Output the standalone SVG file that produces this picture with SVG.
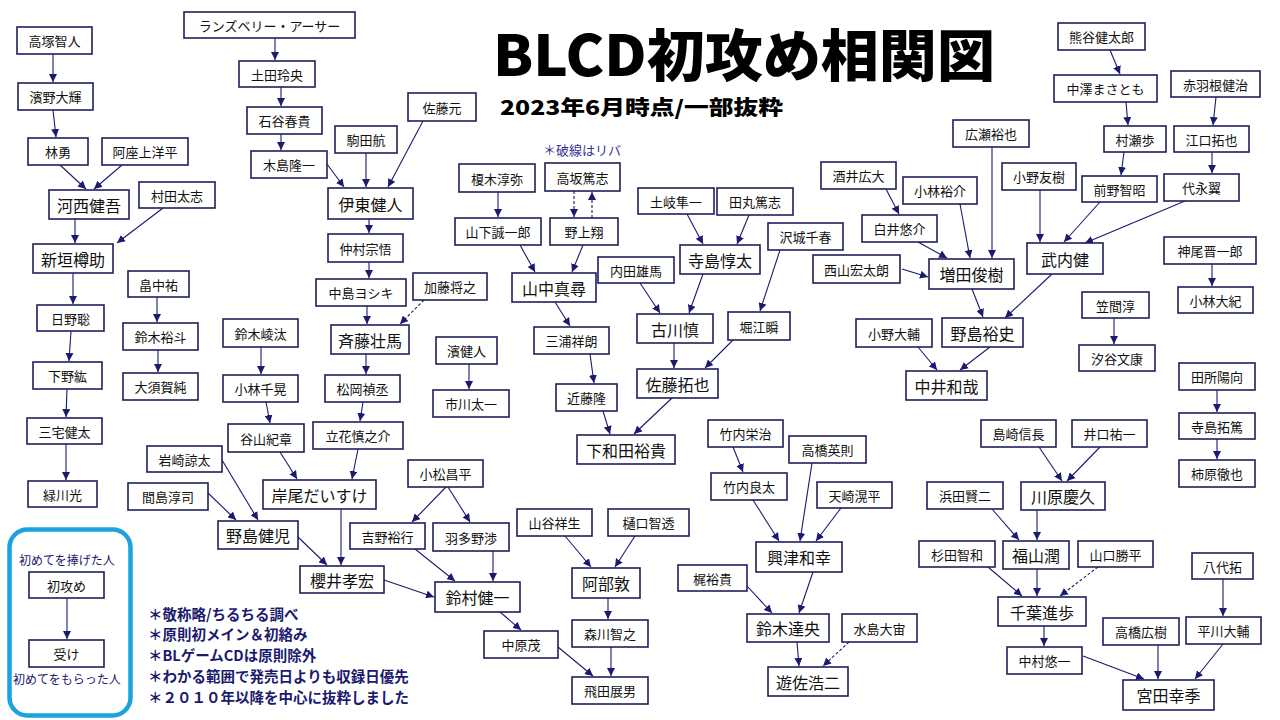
<svg xmlns="http://www.w3.org/2000/svg" width="1280" height="720" viewBox="0 0 1280 720">
<defs>
<style>
.n rect{fill:#fff;stroke:#1f1f5c;stroke-width:1.6}
.n text{font-family:"Noto Sans CJK JP","Noto Sans",sans-serif;font-size:13px;fill:#111;text-anchor:middle;dominant-baseline:central}
.b text{font-size:16px}
.e line{stroke:#1a1a6e;stroke-width:1.1;marker-end:url(#ah)}
.e line.d{stroke-dasharray:3 2}
.note{font-family:"Noto Sans CJK JP","Noto Sans",sans-serif;font-size:14.5px;font-weight:700;fill:#1a1a6e}
.leg{font-family:"Noto Sans CJK JP","Noto Sans",sans-serif;font-size:12px;fill:#1a1a6e;text-anchor:middle}
</style>
<marker id="ah" viewBox="0 0 10 10" refX="10" refY="5" markerWidth="8" markerHeight="8" markerUnits="userSpaceOnUse" orient="auto">
<path d="M0,0 L10,5 L0,10 z" fill="#1a1a6e"/>
</marker>
</defs>
<rect width="1280" height="720" fill="#fff"/>
<text x="493" y="76" textLength="502" lengthAdjust="spacingAndGlyphs" font-family="'Noto Sans CJK JP',sans-serif" font-weight="900" font-size="56" fill="#000">BLCD初攻め相関図</text>
<text x="500" y="115" textLength="283" lengthAdjust="spacingAndGlyphs" font-family="'Noto Sans CJK JP',sans-serif" font-weight="900" font-size="20" fill="#000">2023年6月時点/一部抜粋</text>
<text x="543" y="155" font-family="'Noto Sans CJK JP',sans-serif" font-size="13" fill="#33339a">＊破線はリバ</text>

<g id="connectors" class="e">
<line x1="53" y1="54" x2="53" y2="82"/>
<line x1="53" y1="110" x2="56" y2="137"/>
<line x1="60" y1="165" x2="86" y2="189"/>
<line x1="122" y1="165" x2="94" y2="189"/>
<line x1="75" y1="219" x2="75" y2="243"/>
<line x1="163" y1="208" x2="117" y2="243"/>
<line x1="73" y1="273" x2="73" y2="304"/>
<line x1="71" y1="331" x2="69" y2="361"/>
<line x1="67" y1="389" x2="66" y2="417"/>
<line x1="66" y1="444" x2="66" y2="480"/>
<line x1="157" y1="297" x2="157" y2="322"/>
<line x1="158" y1="350" x2="158" y2="372"/>
<line x1="275" y1="38" x2="275" y2="60"/>
<line x1="281" y1="87" x2="281" y2="106"/>
<line x1="281" y1="134" x2="281" y2="150"/>
<line x1="327" y1="164" x2="344" y2="187"/>
<line x1="366" y1="153" x2="366" y2="187"/>
<line x1="423" y1="121" x2="388" y2="187"/>
<line x1="369" y1="219" x2="369" y2="233"/>
<line x1="369" y1="262" x2="369" y2="278"/>
<line x1="367" y1="306" x2="367" y2="324"/>
<line class="d" x1="424" y1="300" x2="400" y2="324"/>
<line x1="366" y1="354" x2="366" y2="374"/>
<line x1="363" y1="402" x2="360" y2="421"/>
<line x1="358" y1="449" x2="352" y2="479"/>
<line x1="261" y1="347" x2="261" y2="374"/>
<line x1="266" y1="402" x2="270" y2="423"/>
<line x1="280" y1="452" x2="297" y2="479"/>
<line x1="222" y1="460" x2="258" y2="520"/>
<line x1="208" y1="493" x2="236" y2="520"/>
<line x1="298" y1="537" x2="327" y2="565"/>
<line x1="341" y1="509" x2="341" y2="565"/>
<line x1="384" y1="580" x2="434" y2="597"/>
<line x1="469" y1="364" x2="469" y2="389"/>
<line x1="446" y1="487" x2="412" y2="522"/>
<line x1="448" y1="487" x2="470" y2="522"/>
<line x1="415" y1="549" x2="455" y2="581"/>
<line x1="493" y1="551" x2="493" y2="581"/>
<line x1="500" y1="612" x2="521" y2="630"/>
<line x1="558" y1="647" x2="593" y2="676"/>
<line x1="565" y1="536" x2="591" y2="567"/>
<line x1="635" y1="536" x2="615" y2="567"/>
<line x1="608" y1="598" x2="608" y2="619"/>
<line x1="611" y1="647" x2="611" y2="676"/>
<line x1="498" y1="192" x2="498" y2="217"/>
<line class="d" x1="574" y1="191" x2="574" y2="217"/>
<line class="d" x1="592" y1="218" x2="592" y2="192"/>
<line x1="520" y1="245" x2="535" y2="272"/>
<line x1="583" y1="245" x2="572" y2="272"/>
<line x1="555" y1="302" x2="570" y2="326"/>
<line x1="590" y1="354" x2="594" y2="383"/>
<line x1="603" y1="411" x2="610" y2="434"/>
<line x1="672" y1="398" x2="634" y2="434"/>
<line x1="687" y1="214" x2="703" y2="244"/>
<line x1="749" y1="215" x2="737" y2="244"/>
<line x1="640" y1="283" x2="660" y2="313"/>
<line x1="703" y1="274" x2="689" y2="313"/>
<line x1="780" y1="250" x2="760" y2="311"/>
<line x1="674" y1="343" x2="674" y2="368"/>
<line x1="733" y1="340" x2="705" y2="368"/>
<line x1="733" y1="447" x2="743" y2="472"/>
<line x1="753" y1="500" x2="779" y2="541"/>
<line x1="812" y1="463" x2="800" y2="541"/>
<line x1="841" y1="508" x2="816" y2="541"/>
<line x1="813" y1="572" x2="799" y2="613"/>
<line x1="747" y1="586" x2="772" y2="613"/>
<line x1="797" y1="642" x2="799" y2="666"/>
<line class="d" x1="849" y1="642" x2="823" y2="666"/>
<line x1="886" y1="189" x2="899" y2="214"/>
<line x1="918" y1="242" x2="947" y2="258"/>
<line x1="960" y1="204" x2="970" y2="258"/>
<line x1="992" y1="147" x2="992" y2="258"/>
<line x1="902" y1="269" x2="928" y2="277"/>
<line x1="1040" y1="190" x2="1040" y2="242"/>
<line x1="1100" y1="202" x2="1064" y2="242"/>
<line x1="1185" y1="201" x2="1085" y2="243"/>
<line x1="1110" y1="50" x2="1120" y2="74"/>
<line x1="1126" y1="102" x2="1128" y2="125"/>
<line x1="1216" y1="97" x2="1213" y2="125"/>
<line x1="1124" y1="152" x2="1121" y2="175"/>
<line x1="1212" y1="152" x2="1212" y2="173"/>
<line x1="972" y1="289" x2="983" y2="317"/>
<line x1="1052" y1="274" x2="1005" y2="318"/>
<line x1="990" y1="347" x2="960" y2="370"/>
<line x1="918" y1="347" x2="937" y2="370"/>
<line x1="1212" y1="264" x2="1212" y2="286"/>
<line x1="1114" y1="318" x2="1114" y2="344"/>
<line x1="1217" y1="390" x2="1217" y2="412"/>
<line x1="1217" y1="439" x2="1217" y2="459"/>
<line x1="1039" y1="447" x2="1062" y2="481"/>
<line x1="1100" y1="447" x2="1067" y2="481"/>
<line x1="1037" y1="510" x2="1037" y2="540"/>
<line x1="992" y1="509" x2="1019" y2="540"/>
<line x1="988" y1="567" x2="1022" y2="596"/>
<line x1="1037" y1="569" x2="1037" y2="596"/>
<line class="d" x1="1098" y1="567" x2="1060" y2="596"/>
<line x1="1044" y1="626" x2="1044" y2="646"/>
<line x1="1083" y1="656" x2="1144" y2="679"/>
<line x1="1158" y1="645" x2="1158" y2="679"/>
<line x1="1223" y1="644" x2="1195" y2="679"/>
<line x1="1223" y1="579" x2="1223" y2="616"/>
<line x1="67" y1="598" x2="67" y2="639"/>
</g>

<g id="n1" class="n"><rect x="17" y="27" width="75" height="27"/><text x="54.5" y="40.5">高塚智人</text></g>
<g id="n2" class="n"><rect x="18" y="83" width="75" height="27"/><text x="55.5" y="96.5">濱野大輝</text></g>
<g id="n3" class="n"><rect x="28" y="138" width="60" height="27"/><text x="58" y="151.5">林勇</text></g>
<g id="n4" class="n"><rect x="102" y="138" width="86" height="27"/><text x="145" y="151.5">阿座上洋平</text></g>
<g id="n5" class="n b"><rect x="49" y="190" width="80" height="29"/><text x="89" y="204.5">河西健吾</text></g>
<g id="n6" class="n"><rect x="139" y="182" width="76" height="26"/><text x="177" y="195">村田太志</text></g>
<g id="n7" class="n b"><rect x="33" y="244" width="80" height="29"/><text x="73" y="258.5">新垣樽助</text></g>
<g id="n8" class="n"><rect x="37" y="305" width="67" height="26"/><text x="70.5" y="318">日野聡</text></g>
<g id="n9" class="n"><rect x="33" y="362" width="69" height="27"/><text x="67.5" y="375.5">下野紘</text></g>
<g id="n10" class="n"><rect x="27" y="418" width="75" height="26"/><text x="64.5" y="431">三宅健太</text></g>
<g id="n11" class="n"><rect x="28" y="481" width="69" height="26"/><text x="62.5" y="494">緑川光</text></g>
<g id="n12" class="n"><rect x="128" y="271" width="61" height="26"/><text x="158.5" y="284">畠中祐</text></g>
<g id="n13" class="n"><rect x="123" y="323" width="75" height="27"/><text x="160.5" y="336.5">鈴木裕斗</text></g>
<g id="n14" class="n"><rect x="123" y="373" width="75" height="27"/><text x="160.5" y="386.5">大須賀純</text></g>
<g id="n15" class="n"><rect x="184" y="12" width="171" height="26"/><text x="269.5" y="25">ランズベリー・アーサー</text></g>
<g id="n16" class="n"><rect x="239" y="61" width="76" height="26"/><text x="277" y="74">土田玲央</text></g>
<g id="n17" class="n"><rect x="247" y="107" width="75" height="27"/><text x="284.5" y="120.5">石谷春貴</text></g>
<g id="n18" class="n"><rect x="251" y="151" width="76" height="27"/><text x="289" y="164.5">木島隆一</text></g>
<g id="n19" class="n"><rect x="335" y="126" width="62" height="27"/><text x="366" y="139.5">駒田航</text></g>
<g id="n20" class="n"><rect x="408" y="93" width="68" height="28"/><text x="442" y="107">佐藤元</text></g>
<g id="n21" class="n b"><rect x="328" y="188" width="85" height="31"/><text x="370.5" y="203.5">伊東健人</text></g>
<g id="n22" class="n"><rect x="328" y="234" width="75" height="28"/><text x="365.5" y="248">仲村宗悟</text></g>
<g id="n23" class="n"><rect x="316" y="279" width="90" height="27"/><text x="361" y="292.5">中島ヨシキ</text></g>
<g id="n24" class="n"><rect x="413" y="273" width="74" height="27"/><text x="450" y="286.5">加藤将之</text></g>
<g id="n25" class="n b"><rect x="331" y="325" width="78" height="29"/><text x="370" y="339.5">斉藤壮馬</text></g>
<g id="n26" class="n"><rect x="325" y="375" width="75" height="27"/><text x="362.5" y="388.5">松岡禎丞</text></g>
<g id="n27" class="n"><rect x="313" y="422" width="90" height="27"/><text x="358" y="435.5">立花慎之介</text></g>
<g id="n28" class="n"><rect x="223" y="319" width="75" height="28"/><text x="260.5" y="333">鈴木崚汰</text></g>
<g id="n29" class="n"><rect x="223" y="375" width="75" height="27"/><text x="260.5" y="388.5">小林千晃</text></g>
<g id="n30" class="n"><rect x="228" y="424" width="76" height="28"/><text x="266" y="438">谷山紀章</text></g>
<g id="n31" class="n"><rect x="147" y="446" width="75" height="26"/><text x="184.5" y="459">岩崎諒太</text></g>
<g id="n32" class="n"><rect x="128" y="483" width="80" height="27"/><text x="168" y="496.5">間島淳司</text></g>
<g id="n33" class="n b"><rect x="263" y="480" width="113" height="29"/><text x="319.5" y="494.5">岸尾だいすけ</text></g>
<g id="n34" class="n b"><rect x="218" y="521" width="80" height="28"/><text x="258" y="535">野島健児</text></g>
<g id="n35" class="n b"><rect x="300" y="566" width="84" height="27"/><text x="342" y="579.5">櫻井孝宏</text></g>
<g id="n36" class="n"><rect x="436" y="337" width="61" height="27"/><text x="466.5" y="350.5">濱健人</text></g>
<g id="n37" class="n"><rect x="433" y="390" width="76" height="27"/><text x="471" y="403.5">市川太一</text></g>
<g id="n38" class="n"><rect x="408" y="460" width="75" height="27"/><text x="445.5" y="473.5">小松昌平</text></g>
<g id="n39" class="n"><rect x="350" y="523" width="75" height="26"/><text x="387.5" y="536">吉野裕行</text></g>
<g id="n40" class="n"><rect x="433" y="523" width="76" height="28"/><text x="471" y="537">羽多野渉</text></g>
<g id="n41" class="n b"><rect x="435" y="582" width="85" height="30"/><text x="477.5" y="597">鈴村健一</text></g>
<g id="n42" class="n"><rect x="484" y="631" width="74" height="27"/><text x="521" y="644.5">中原茂</text></g>
<g id="n43" class="n"><rect x="459" y="164" width="76" height="28"/><text x="497" y="178">榎木淳弥</text></g>
<g id="n44" class="n"><rect x="545" y="163" width="75" height="28"/><text x="582.5" y="177">高坂篤志</text></g>
<g id="n45" class="n"><rect x="455" y="218" width="86" height="27"/><text x="498" y="231.5">山下誠一郎</text></g>
<g id="n46" class="n"><rect x="550" y="218" width="68" height="27"/><text x="584" y="231.5">野上翔</text></g>
<g id="n47" class="n b"><rect x="512" y="273" width="84" height="29"/><text x="554" y="287.5">山中真尋</text></g>
<g id="n48" class="n"><rect x="534" y="327" width="75" height="27"/><text x="571.5" y="340.5">三浦祥朗</text></g>
<g id="n49" class="n"><rect x="556" y="384" width="61" height="27"/><text x="586.5" y="397.5">近藤隆</text></g>
<g id="n50" class="n b"><rect x="577" y="435" width="98" height="29"/><text x="626" y="449.5">下和田裕貴</text></g>
<g id="n51" class="n"><rect x="517" y="509" width="75" height="27"/><text x="554.5" y="522.5">山谷祥生</text></g>
<g id="n52" class="n"><rect x="608" y="509" width="81" height="27"/><text x="648.5" y="522.5">樋口智透</text></g>
<g id="n53" class="n b"><rect x="572" y="568" width="68" height="30"/><text x="606" y="583">阿部敦</text></g>
<g id="n54" class="n"><rect x="572" y="620" width="76" height="27"/><text x="610" y="633.5">森川智之</text></g>
<g id="n55" class="n"><rect x="572" y="677" width="76" height="27"/><text x="610" y="690.5">飛田展男</text></g>
<g id="n56" class="n"><rect x="638" y="188" width="76" height="26"/><text x="676" y="201">土岐隼一</text></g>
<g id="n57" class="n"><rect x="717" y="188" width="76" height="27"/><text x="755" y="201.5">田丸篤志</text></g>
<g id="n58" class="n"><rect x="598" y="257" width="76" height="26"/><text x="636" y="270">内田雄馬</text></g>
<g id="n59" class="n b"><rect x="680" y="245" width="80" height="29"/><text x="720" y="259.5">寺島惇太</text></g>
<g id="n60" class="n"><rect x="768" y="223" width="75" height="27"/><text x="805.5" y="236.5">沢城千春</text></g>
<g id="n61" class="n b"><rect x="637" y="314" width="76" height="29"/><text x="675" y="328.5">古川慎</text></g>
<g id="n62" class="n"><rect x="728" y="312" width="62" height="28"/><text x="759" y="326">堀江瞬</text></g>
<g id="n63" class="n b"><rect x="637" y="369" width="81" height="29"/><text x="677.5" y="383.5">佐藤拓也</text></g>
<g id="n64" class="n"><rect x="708" y="420" width="75" height="27"/><text x="745.5" y="433.5">竹内栄治</text></g>
<g id="n65" class="n"><rect x="789" y="436" width="77" height="27"/><text x="827.5" y="449.5">高橋英則</text></g>
<g id="n66" class="n"><rect x="711" y="473" width="76" height="27"/><text x="749" y="486.5">竹内良太</text></g>
<g id="n67" class="n"><rect x="817" y="482" width="75" height="26"/><text x="854.5" y="495">天崎滉平</text></g>
<g id="n68" class="n b"><rect x="756" y="542" width="86" height="30"/><text x="799" y="557">興津和幸</text></g>
<g id="n69" class="n"><rect x="678" y="565" width="69" height="26"/><text x="712.5" y="578">梶裕貴</text></g>
<g id="n70" class="n b"><rect x="747" y="614" width="82" height="28"/><text x="788" y="628">鈴木達央</text></g>
<g id="n71" class="n"><rect x="842" y="614" width="75" height="28"/><text x="879.5" y="628">水島大宙</text></g>
<g id="n72" class="n b"><rect x="768" y="667" width="80" height="29"/><text x="808" y="681.5">遊佐浩二</text></g>
<g id="n73" class="n"><rect x="821" y="162" width="75" height="27"/><text x="858.5" y="175.5">酒井広大</text></g>
<g id="n74" class="n"><rect x="903" y="177" width="74" height="27"/><text x="940" y="190.5">小林裕介</text></g>
<g id="n75" class="n"><rect x="862" y="215" width="75" height="27"/><text x="899.5" y="228.5">白井悠介</text></g>
<g id="n76" class="n"><rect x="953" y="120" width="76" height="27"/><text x="991" y="133.5">広瀬裕也</text></g>
<g id="n77" class="n"><rect x="813" y="255" width="87" height="28"/><text x="856.5" y="269">西山宏太朗</text></g>
<g id="n78" class="n b"><rect x="929" y="259" width="85" height="30"/><text x="971.5" y="274">増田俊樹</text></g>
<g id="n79" class="n"><rect x="856" y="319" width="76" height="28"/><text x="894" y="333">小野大輔</text></g>
<g id="n80" class="n b"><rect x="942" y="318" width="81" height="29"/><text x="982.5" y="332.5">野島裕史</text></g>
<g id="n81" class="n b"><rect x="906" y="371" width="81" height="29"/><text x="946.5" y="385.5">中井和哉</text></g>
<g id="n82" class="n"><rect x="1058" y="23" width="87" height="27"/><text x="1101.5" y="36.5">熊谷健太郎</text></g>
<g id="n83" class="n"><rect x="1054" y="75" width="103" height="27"/><text x="1105.5" y="88.5">中澤まさとも</text></g>
<g id="n84" class="n"><rect x="1171" y="71" width="89" height="26"/><text x="1215.5" y="84">赤羽根健治</text></g>
<g id="n85" class="n"><rect x="1104" y="126" width="62" height="26"/><text x="1135" y="139">村瀬歩</text></g>
<g id="n86" class="n"><rect x="1174" y="126" width="75" height="26"/><text x="1211.5" y="139">江口拓也</text></g>
<g id="n87" class="n"><rect x="1002" y="163" width="74" height="27"/><text x="1039" y="176.5">小野友樹</text></g>
<g id="n88" class="n"><rect x="1082" y="176" width="75" height="26"/><text x="1119.5" y="189">前野智昭</text></g>
<g id="n89" class="n"><rect x="1164" y="174" width="75" height="27"/><text x="1201.5" y="187.5">代永翼</text></g>
<g id="n90" class="n b"><rect x="1027" y="243" width="76" height="31"/><text x="1065" y="258.5">武内健</text></g>
<g id="n91" class="n"><rect x="1164" y="237" width="92" height="27"/><text x="1210" y="250.5">神尾晋一郎</text></g>
<g id="n92" class="n"><rect x="1178" y="287" width="75" height="26"/><text x="1215.5" y="300">小林大紀</text></g>
<g id="n93" class="n"><rect x="1082" y="292" width="67" height="26"/><text x="1115.5" y="305">笠間淳</text></g>
<g id="n94" class="n"><rect x="1079" y="345" width="76" height="26"/><text x="1117" y="358">汐谷文康</text></g>
<g id="n95" class="n"><rect x="1179" y="363" width="76" height="27"/><text x="1217" y="376.5">田所陽向</text></g>
<g id="n96" class="n"><rect x="1179" y="413" width="76" height="26"/><text x="1217" y="426">寺島拓篤</text></g>
<g id="n97" class="n"><rect x="1179" y="460" width="76" height="27"/><text x="1217" y="473.5">柿原徹也</text></g>
<g id="n98" class="n"><rect x="981" y="420" width="75" height="27"/><text x="1018.5" y="433.5">島崎信長</text></g>
<g id="n99" class="n"><rect x="1072" y="420" width="75" height="27"/><text x="1109.5" y="433.5">井口祐一</text></g>
<g id="n100" class="n b"><rect x="1021" y="482" width="84" height="28"/><text x="1063" y="496">川原慶久</text></g>
<g id="n101" class="n"><rect x="927" y="482" width="76" height="27"/><text x="965" y="495.5">浜田賢二</text></g>
<g id="n102" class="n"><rect x="919" y="541" width="76" height="26"/><text x="957" y="554">杉田智和</text></g>
<g id="n103" class="n b"><rect x="1003" y="541" width="66" height="28"/><text x="1036" y="555">福山潤</text></g>
<g id="n104" class="n"><rect x="1078" y="541" width="75" height="26"/><text x="1115.5" y="554">山口勝平</text></g>
<g id="n105" class="n b"><rect x="998" y="597" width="88" height="29"/><text x="1042" y="611.5">千葉進歩</text></g>
<g id="n106" class="n"><rect x="1007" y="647" width="75" height="27"/><text x="1044.5" y="660.5">中村悠一</text></g>
<g id="n107" class="n"><rect x="1103" y="618" width="76" height="27"/><text x="1141" y="631.5">高橋広樹</text></g>
<g id="n108" class="n"><rect x="1192" y="553" width="61" height="26"/><text x="1222.5" y="566">八代拓</text></g>
<g id="n109" class="n"><rect x="1186" y="617" width="75" height="27"/><text x="1223.5" y="630.5">平川大輔</text></g>
<g id="n110" class="n b"><rect x="1123" y="680" width="91" height="30"/><text x="1168.5" y="695">宮田幸季</text></g>

<g id="legend">
<rect x="9.5" y="529.5" width="121" height="186" rx="18" fill="none" stroke="#1aa3dc" stroke-width="4.5"/>
<text class="leg" x="67" y="565">初めてを捧げた人</text>
<g id="leg-seme" class="n"><rect x="29" y="572" width="75" height="26"/><text x="66.5" y="585">初攻め</text></g>
<g id="leg-uke" class="n"><rect x="29" y="640" width="75" height="27"/><text x="66.5" y="653.5">受け</text></g>
<text class="leg" x="67" y="684">初めてをもらった人</text>
</g>

<g id="notes">
<text class="note" x="148" y="620">＊敬称略/ちるちる調べ</text>
<text class="note" x="148" y="640">＊原則初メイン＆初絡み</text>
<text class="note" x="148" y="661">＊BLゲームCDは原則除外</text>
<text class="note" x="148" y="682">＊わかる範囲で発売日よりも収録日優先</text>
<text class="note" x="148" y="703">＊２０１０年以降を中心に抜粋しました</text>
</g>
</svg>
